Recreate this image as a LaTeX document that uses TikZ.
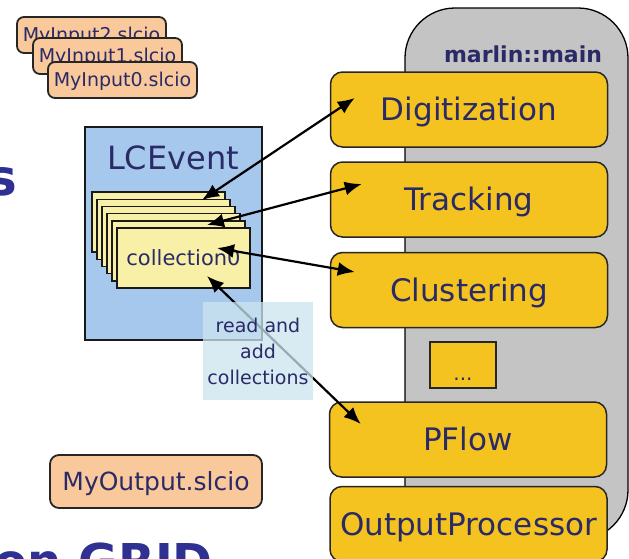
\documentclass[tikz,border=0pt]{standalone}
\usepackage{fontspec}
\setmainfont{DejaVu Sans}
\usetikzlibrary{arrows.meta,calc}
\definecolor{navy}{HTML}{2A2A66}
\definecolor{titleblue}{HTML}{2E3192}
\definecolor{procyellow}{HTML}{F5C320}
\definecolor{graybg}{HTML}{C4C4C4}
\definecolor{evblue}{HTML}{A6C8EC}
\definecolor{cardyellow}{HTML}{F8F0A6}
\definecolor{peach}{HTML}{F9C99C}
\definecolor{readbg}{HTML}{CCE5F0}
\tikzset{
  proc/.style={draw=black!85, line width=1.5pt, fill=procyellow, rounded corners=12pt,
    minimum width=277pt, minimum height=75pt, inner sep=0pt, text=navy,
    font=\fontsize{31}{37}\selectfont, text height=22.6pt, text depth=0pt},
  filebox/.style={draw=black!85, line width=1.8pt, fill=peach, rounded corners=7pt,
    minimum width=149pt, minimum height=36pt, inner sep=0pt, text=navy,
    font=\fontsize{19}{23}\selectfont, text height=13.9pt, text depth=0pt},
  card/.style={draw=black!90, line width=1.4pt, fill=cardyellow,
    minimum width=133pt, minimum height=60pt, inner sep=0pt, text=navy,
    font=\fontsize{21}{25}\selectfont},
  conn/.style={{Latex[length=17pt,width=14pt]}-{Latex[length=17pt,width=14pt]}, line width=2.2pt, black},
  bigtitle/.style={text=titleblue, font=\fontsize{50}{60}\selectfont\bfseries, inner sep=0pt}
}
\begin{document}
\begin{tikzpicture}[x=1pt,y=-1pt]
\useasboundingbox (0,0) rectangle (629,558);
\clip (0,0) rectangle (629,558);
\fill[white] (0,0) rectangle (629,558);

% partial slide title text
\node[bigtitle, anchor=base east] (ttl1) at (17,195) {s};
\node[bigtitle, anchor=base east, font=\fontsize{48}{58}\selectfont\bfseries] (ttl2) at (213,578) {on GRID};

% marlin::main gray container
\node[draw=black, line width=1.3pt, fill=graybg, rounded corners=50pt,
      minimum width=223pt, minimum height=532pt, inner sep=0pt] (main) at (516.5,274) {};
\node[text=navy, font=\fontsize{22}{26}\selectfont\bfseries, anchor=base, inner sep=0pt] (mainlbl) at (523,62) {marlin::main};

% processors
\node[proc] (dig) at (469,109.5) {Digitization};
\node[proc] (trk) at (469,199.5) {Tracking};
\node[proc] (clu) at (469,290) {Clustering};
\node[draw=black!85, line width=1.5pt, fill=procyellow, minimum width=66pt, minimum height=46pt,
      inner sep=0pt] (dots) at (463,365) {};
\node[text=navy, font=\fontsize{20}{24}\selectfont, anchor=base, inner sep=0pt] (dotslbl) at ([shift={(0,-8)}]dots.south) {...};
\node[proc] (pfl) at (468,439.5) {PFlow};
\node[proc] (outp) at (468.5,524) {OutputProcessor};

% input files
\node[filebox] (in2) at (91.5,35) {MyInput2.slcio};
\node[filebox] (in1) at (107.5,56) {MyInput1.slcio};
\node[filebox] (in0) at (122.5,80) {MyInput0.slcio};

% output file
\node[filebox, minimum width=212pt, minimum height=53pt, rounded corners=9pt,
      font=\fontsize{25}{30}\selectfont, text height=18.2pt] (outf) at (156,481.5) {MyOutput.slcio};

% LCEvent
\node[draw=black!90, line width=1.5pt, fill=evblue, minimum width=177pt, minimum height=213pt, inner sep=0pt] (ev) at (173.5,233.5) {};
\node[text=navy, font=\fontsize{32}{38}\selectfont, inner sep=0pt, text height=23.3pt, text depth=0pt] (evlbl) at (173,157.5) {LCEvent};

% collection cards
\foreach \i in {5,4,3,2,1}{
  \node[card] (c\i) at ({92+5*(5-\i)+66.5},{192+7.2*(5-\i)+30}) {};
}
\node[card] (c0) at (183.5,258) {collection0};

% connectors
\draw[conn] ([shift={(18.5,-58)}]c0.center) -- ([shift={(25,-11.5)}]dig.west);
\draw[conn] ([shift={(23.5,-33)}]c0.center) -- ([shift={(32,-15.5)}]trk.west);
\draw[conn] ([shift={(33.5,-10)}]c0.center) -- ([shift={(25,-18)}]clu.west);
\draw[conn] ([shift={(23.5,18)}]c0.center) -- ([shift={(32,-15.5)}]pfl.west);

% read and add collections
\node[fill=readbg, fill opacity=0.75, text opacity=1, text=navy, minimum width=110pt, minimum height=98pt,
      inner sep=0pt, align=center, font=\fontsize{19}{26}\selectfont] (rd) at (258,351) {read and\\add\\collections};
\end{tikzpicture}
\end{document}
